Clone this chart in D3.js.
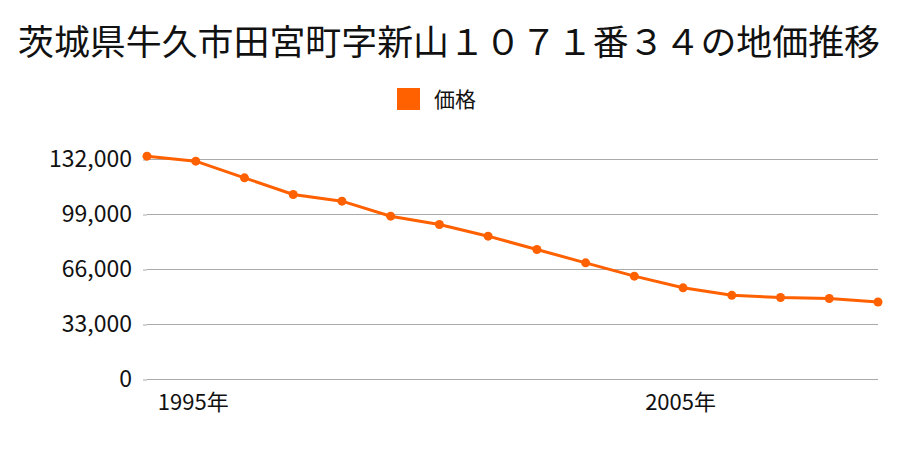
<!DOCTYPE html>
<html><head><meta charset="utf-8">
<script src="https://cdn.jsdelivr.net/npm/d3@7"></script>
<style>body{margin:0;background:#fff;}svg{display:block;}text{font-family:"Noto Sans CJK JP","Noto Sans",sans-serif;}</style>
</head><body>
<svg id="c" width="900" height="450"></svg>
<script>
const title = "茨城県牛久市田宮町字新山１０７１番３４の地価推移";
const seriesName = "価格";
const years = [1994,1995,1996,1997,1998,1999,2000,2001,2002,2003,2004,2005,2006,2007,2008,2009];
const prices = [134000,131000,121000,111000,107000,98000,93000,86000,78000,70000,62000,55000,50500,49200,48600,46500];
const yTicks = [0,33000,66000,99000,132000];
const xTickYears = [1995,2005];

const svg = d3.select("#c");
const color = "#ff6000";
const font = "'Noto Sans CJK JP','Noto Sans',sans-serif";
const x = d3.scaleLinear().domain([1994,2009]).range([147,878]);
const y = d3.scaleLinear().domain([0,132000]).range([379.5,159.5]);

svg.append("text").attr("x",449).attr("y",55).attr("text-anchor","middle")
  .attr("font-size",35).attr("fill","#111")
  .attr("textLength",862).attr("lengthAdjust","spacingAndGlyphs").text(title);

// legend
svg.append("rect").attr("x",397).attr("y",88).attr("width",23).attr("height",22).attr("fill",color);
svg.append("text").attr("x",434).attr("y",107).attr("font-size",21).attr("fill","#111").text(seriesName);

// grid
svg.append("g").selectAll("line").data(yTicks).join("line")
  .attr("x1",147).attr("x2",878).attr("y1",d=>y(d)).attr("y2",d=>y(d))
  .attr("stroke","#aaa").attr("stroke-width",1);

const yAxis = d3.axisLeft(y).tickValues(yTicks).tickFormat(d3.format(",")).tickSize(4).tickPadding(11);
const gy = svg.append("g").attr("transform","translate(147,0)").call(yAxis);
gy.select(".domain").remove();
gy.selectAll("line").attr("stroke","#aaa");
gy.selectAll("text").attr("font-size",23).attr("fill","#111").attr("font-family",font);

const xAxis = d3.axisBottom(x).tickValues(xTickYears).tickFormat(d=>d+"年").tickSize(0).tickPadding(15);
const gx = svg.append("g").attr("transform","translate(0,379.5)").call(xAxis);
gx.select(".domain").remove();
gx.selectAll("text").attr("font-size",22).attr("fill","#111").attr("font-family",font).attr("dx",-3);

const line = d3.line().x((d,i)=>x(years[i])).y(d=>y(d));
svg.append("path").datum(prices).attr("d",line).attr("fill","none").attr("stroke",color).attr("stroke-width",3);
svg.append("g").selectAll("circle").data(prices).join("circle")
  .attr("cx",(d,i)=>x(years[i])).attr("cy",d=>y(d)).attr("r",4.5).attr("fill",color);
</script>
</body></html>
